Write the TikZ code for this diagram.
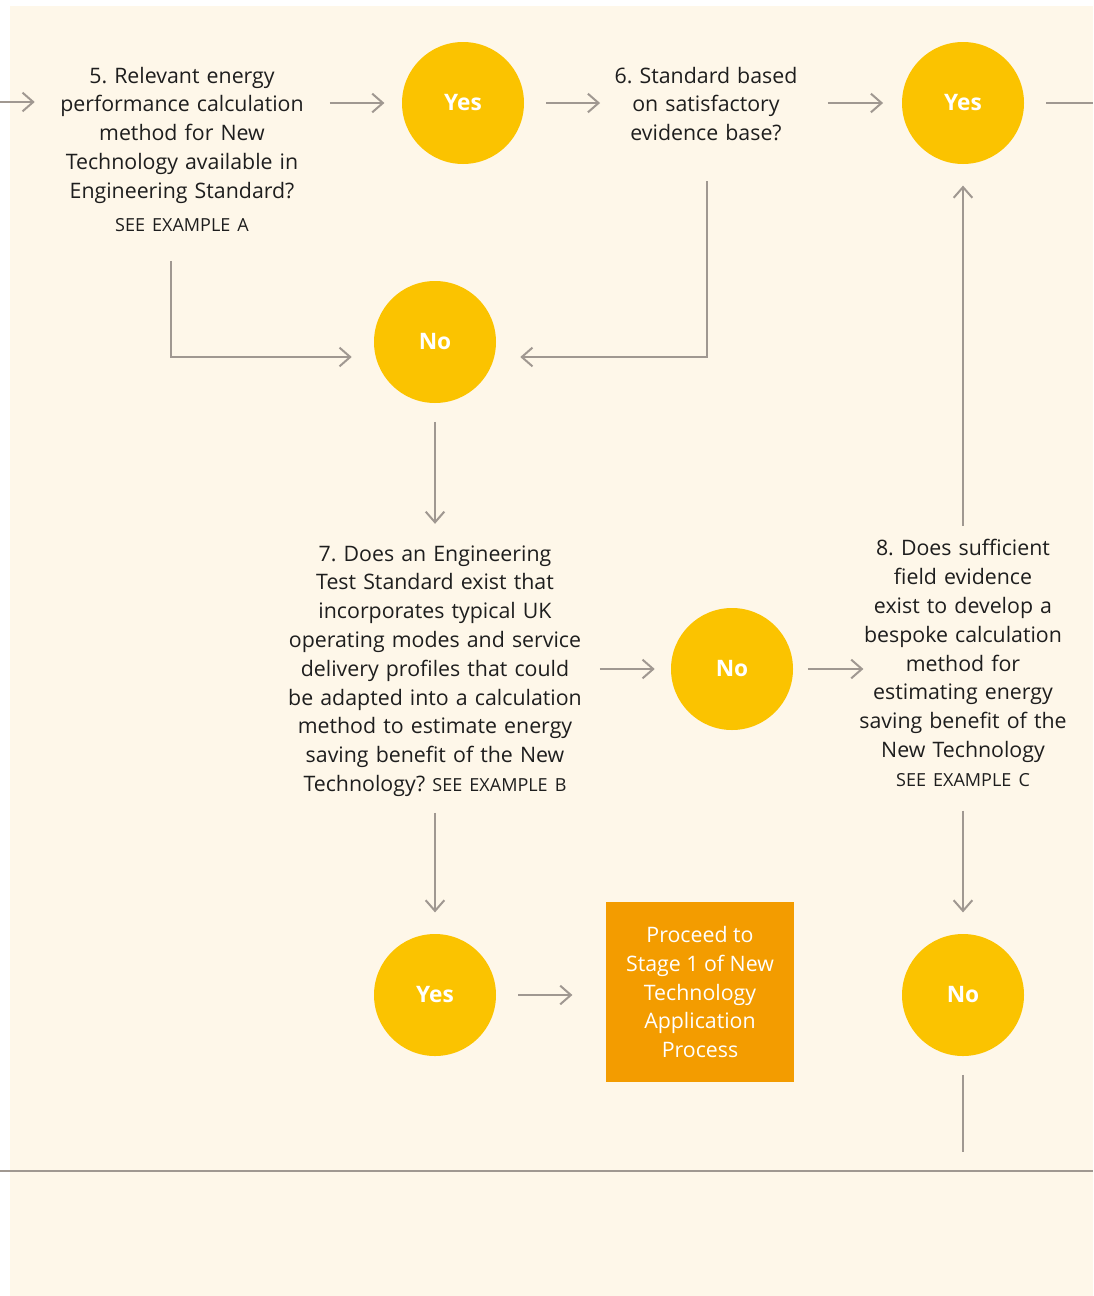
\documentclass[tikz,border=0pt]{standalone}
\usepackage{fontspec}
\setmainfont{Open Sans}
\usetikzlibrary{arrows.meta}
\definecolor{paper}{RGB}{254,247,233}
\definecolor{sun}{RGB}{251,195,0}
\definecolor{amber}{RGB}{243,156,0}
\definecolor{wire}{RGB}{160,152,145}
\definecolor{ink}{RGB}{30,30,30}
\newcommand{\seeExample}[1]{{\fontsize{13.5}{15}\selectfont SEE EXAMPLE #1}}
\frenchspacing

\begin{document}
\begin{tikzpicture}[%
  x=0.75pt, y=-0.75pt,%
  linkStyle/.style={draw=wire, line width=1.5pt,
    -{Straight Barb[length=8pt, width=14pt, line width=1.5pt]}},%
  plainLink/.style={draw=wire, line width=1.5pt},%
  answerStyle/.style={circle, fill=sun, minimum size=91.5pt, inner sep=0pt,
    text=white, font=\bfseries\fontsize{17}{20}\selectfont},%
  questionStyle/.style={align=center, inner sep=0pt, text=ink,
    font=\fontsize{16}{21.6}\selectfont},%
  boxStyle/.style={fill=amber, minimum width=141pt, minimum height=135pt,
    inner sep=0pt, align=center, text=white,
    font=\fontsize{16}{21.6}\selectfont}%
]
%
% Page and margins.
\useasboundingbox (0,0) rectangle (1093,1296);
\fill[paper] (10,6) rectangle (1093,1296);
%
% The answers.
\node[answerStyle] (yesA) at (463,103) {Yes};
\node[answerStyle] (yesB) at (963,103) {Yes};
\node[answerStyle] (noA)  at (435,342) {No};
\node[answerStyle] (noB)  at (732,669) {No};
\node[answerStyle] (yesC) at (435,995) {Yes};
\node[answerStyle] (noC)  at (963,995) {No};
%
% The questions.
\node[questionStyle, text width=187.5pt] (qFive) at (182,149) {%
  5. Relevant energy\\ performance calculation\\ method for New\\
  Technology available in\\ Engineering Standard?\\[3pt] \seeExample{A}};
\node[questionStyle, text width=142.5pt] (qSix) at (706,104) {%
  6. Standard based\\ on satisfactory\\ evidence base?};
\node[questionStyle, text width=225pt] (qSeven) at (435,671) {%
  7. Does an Engineering\\ Test Standard exist that\\ incorporates typical UK\\
  operating modes and service\\ delivery profiles that could\\
  be adapted into a calculation\\ method to estimate energy\\
  saving benefit of the New\\ Technology? \seeExample{B}};
\node[questionStyle, text width=161pt] (qEight) at (963,663) {%
  8. Does sufficient\\ field evidence\\ exist to develop a\\
  bespoke calculation\\ method for\\ estimating energy\\
  saving benefit of the\\ New Technology\\ \seeExample{C}};
\node[boxStyle] (stage) at (700,992) {%
  Proceed to\\ Stage 1 of New\\ Technology\\ Application\\ Process};
%
% Free ends and bends.
\coordinate (entry)   at (0,102);
\coordinate (exitTop) at (1093,102);
\coordinate (bendA)   at (171,357);
\coordinate (bendB)   at (707,357);
\coordinate (exitLow) at (963,1152);
\coordinate (ruleL)   at (0,1171);
\coordinate (ruleR)   at (1093,1171);
%
% Connectors along the top row.
\draw[linkStyle, shorten >=16.5pt] (entry) -- (entry -| qFive.west);
\draw[linkStyle, shorten <=17pt, shorten >=13pt] (yesA.west -| qFive.east) -- (yesA.west);
\draw[linkStyle, shorten <=16.5pt, shorten >=8pt] (yesA.east) -- (yesA.east -| qSix.west);
\draw[linkStyle, shorten <=20pt, shorten >=14pt] (yesB.west -| qSix.east) -- (yesB.west);
\draw[plainLink, shorten <=16.5pt] (yesB.east) -- (yesB.east -| exitTop);
%
% Into the first No.
\draw[linkStyle, shorten <=22pt, shorten >=16.5pt]
  (qFive.south -| bendA) -- (bendA) -- (bendA -| noA.west);
\draw[linkStyle, shorten <=30pt, shorten >=18pt]
  (qSix.south -| bendB) -- (bendB) -- (bendB -| noA.east);
\draw[linkStyle, shorten <=14pt, shorten >=16pt] (noA.south) -- (qSeven.north);
%
% Middle row.
\draw[linkStyle, shorten <=11pt, shorten >=12pt] (noB.west -| qSeven.east) -- (noB.west);
\draw[linkStyle, shorten <=11pt, shorten >=-6pt] (noB.east) -- (noB.east -| qEight.west);
\draw[linkStyle, shorten <=10pt, shorten >=16pt] (qEight.north) -- (yesB.south);
%
% Bottom row.
\draw[linkStyle, shorten <=12pt, shorten >=16pt] (qSeven.south) -- (yesC.north);
\draw[linkStyle, shorten <=18pt, shorten >=16pt] (qEight.south) -- (noC.north);
\draw[linkStyle, shorten <=16.5pt, shorten >=25pt] (yesC.east) -- (yesC.east -| stage.west);
\draw[plainLink, shorten <=14pt] (noC.south) -- (exitLow);
\draw[plainLink] (ruleL) -- (ruleR);
\end{tikzpicture}
\end{document}
